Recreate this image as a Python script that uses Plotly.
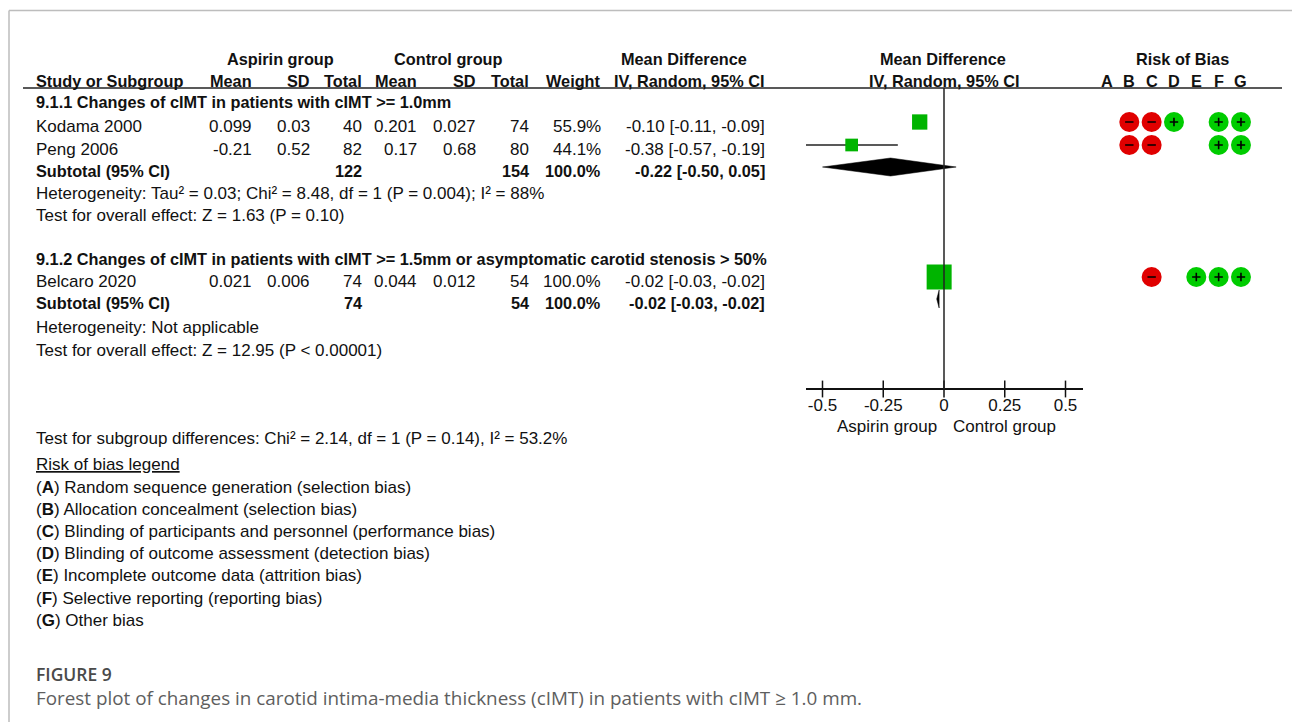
import plotly.graph_objects as go

# ---------------- data ----------------
studies = ["Kodama 2000", "Peng 2006", "Belcaro 2020"]
asp_mean = [0.099, -0.21, 0.021]
asp_sd = [0.03, 0.52, 0.006]
asp_n = [40, 82, 74]
ctl_mean = [0.201, 0.17, 0.044]
ctl_sd = [0.027, 0.68, 0.012]
ctl_n = [74, 80, 54]
weight = [55.9, 44.1, 100.0]
md = [-0.10, -0.38, -0.02]
ci_lo = [-0.11, -0.57, -0.03]
ci_hi = [-0.09, -0.19, -0.02]

sub_titles = [
    "9.1.1 Changes of cIMT in patients with cIMT >= 1.0mm",
    "9.1.2 Changes of cIMT in patients with cIMT >= 1.5mm or asymptomatic carotid stenosis > 50%",
]
sub_asp_n = [122, 74]
sub_ctl_n = [154, 54]
sub_weight = [100.0, 100.0]
sub_md = [-0.22, -0.02]
sub_lo = [-0.50, -0.03]
sub_hi = [0.05, -0.02]
sub_het = [
    "Heterogeneity: Tau² = 0.03; Chi² = 8.48, df = 1 (P = 0.004); I² = 88%",
    "Heterogeneity: Not applicable",
]
sub_effect = [
    "Test for overall effect: Z = 1.63 (P = 0.10)",
    "Test for overall effect: Z = 12.95 (P < 0.00001)",
]

axis_ticks = [-0.5, -0.25, 0, 0.25, 0.5]
axis_ticktext = ["-0.5", "-0.25", "0", "0.25", "0.5"]

rob_domains = ["A", "B", "C", "D", "E", "F", "G"]
rob = [
    [None, "high", "high", "low", None, "low", "low"],   # Kodama 2000
    [None, "high", "high", None, None, "low", "low"],    # Peng 2006
    [None, None, "high", None, "low", "low", "low"],     # Belcaro 2020
]
rob_legend = [
    ("A", "Random sequence generation (selection bias)"),
    ("B", "Allocation concealment (selection bias)"),
    ("C", "Blinding of participants and personnel (performance bias)"),
    ("D", "Blinding of outcome assessment (detection bias)"),
    ("E", "Incomplete outcome data (attrition bias)"),
    ("F", "Selective reporting (reporting bias)"),
    ("G", "Other bias"),
]
subgroup_test = "Test for subgroup differences: Chi² = 2.14, df = 1 (P = 0.14), I² = 53.2%"

# ---------------- layout constants (pixels) ----------------
W, H = 1292, 722
FONT = "Liberation Sans, Arial, sans-serif"
FS = 17        # regular table text
FSB = 16.3     # bold table text
INK = "#111111"
GREEN_SQ = "#00b400"
GREEN_ROB = "#00cc00"
RED_ROB = "#e00000"

study_y = [126, 149, 281]
sub_y = [171, 303]
title_y = [102, 259]
het_y = [193, 327]
eff_y = [215, 350]
MARK_DY = -4

# table columns: right edges (px)
col_asp_mean, col_asp_sd, col_asp_n = 254, 312, 364
col_ctl_mean, col_ctl_sd, col_ctl_n = 419, 478, 531
col_weight, col_ci = 603, 767
LEFT = 34

AX_Y = 389
AX_X0, AX_X1 = 806, 1083
PX_PER_UNIT = 243.0
ZERO_PX = 944
x_lo = (AX_X0 - ZERO_PX) / PX_PER_UNIT
x_hi = (AX_X1 - ZERO_PX) / PX_PER_UNIT

ROB_X0 = 1107 - 11.17
ROB_STEP = 22.33

fig = go.Figure()
ann = []


def txt(x, y, s, anchor="left", bold=False, size=None, color=INK, family=FONT, weight=None):
    if size is None:
        size = FSB if bold else FS
    if bold:
        s = f"<b>{s}</b>"
    font = dict(family=family, size=size, color=color)
    if weight is not None:
        font["weight"] = weight
    ann.append(dict(x=x / W, y=y, xref="paper", yref="y", text=s, showarrow=False,
                    xanchor=anchor, yanchor="middle", font=font))


# headers
txt(280, 59, "Aspirin group", "center", True)
txt(448, 59, "Control group", "center", True)
txt(684, 59, "Mean Difference", "center", True)
txt(943, 59, "Mean Difference", "center", True)
txt(1182, 59, "Risk of Bias", "center", True)
txt(LEFT, 81, "Study or Subgroup", "left", True)
for x, s in [(col_asp_mean, "Mean"), (col_asp_sd, "SD"), (col_asp_n, "Total"),
             (col_ctl_mean, "Mean"), (col_ctl_sd, "SD"), (col_ctl_n, "Total"),
             (col_weight, "Weight"), (col_ci, "IV, Random, 95% CI")]:
    txt(x, 81, s, "right", True)
txt(944, 81, "IV, Random, 95% CI", "center", True)
for d in rob_domains:
    ann.append(dict(x=d, y=81, xref="x2", yref="y", text=f"<b>{d}</b>", showarrow=False,
                    xanchor="center", yanchor="middle",
                    font=dict(family=FONT, size=FSB, color=INK)))

# study rows
for i, s in enumerate(studies):
    y = study_y[i]
    txt(LEFT, y, s)
    txt(col_asp_mean, y, f"{asp_mean[i]:g}", "right")
    txt(col_asp_sd, y, f"{asp_sd[i]:g}", "right")
    txt(col_asp_n, y, f"{asp_n[i]}", "right")
    txt(col_ctl_mean, y, f"{ctl_mean[i]:g}", "right")
    txt(col_ctl_sd, y, f"{ctl_sd[i]:g}", "right")
    txt(col_ctl_n, y, f"{ctl_n[i]}", "right")
    txt(col_weight, y, f"{weight[i]:.1f}%", "right")
    txt(col_ci, y, f"{md[i]:.2f} [{ci_lo[i]:.2f}, {ci_hi[i]:.2f}]", "right")

# subgroup rows
for g in range(2):
    txt(LEFT, title_y[g], sub_titles[g], bold=True)
    y = sub_y[g]
    txt(LEFT, y, "Subtotal (95% CI)", bold=True)
    txt(col_asp_n, y, f"{sub_asp_n[g]}", "right", True)
    txt(col_ctl_n, y, f"{sub_ctl_n[g]}", "right", True)
    txt(col_weight, y, f"{sub_weight[g]:.1f}%", "right", True)
    txt(col_ci, y, f"{sub_md[g]:.2f} [{sub_lo[g]:.2f}, {sub_hi[g]:.2f}]", "right", True)
    txt(LEFT, het_y[g], sub_het[g])
    txt(LEFT, eff_y[g], sub_effect[g])

txt(LEFT, 438, subgroup_test)
txt(LEFT, 464, "<u>Risk of bias legend</u>")
for k, (d, s) in enumerate(rob_legend):
    txt(LEFT, 487 + k * 22.2, f"(<b>{d}</b>) {s}")

txt(887, 426, "Aspirin group", "center")
txt(1004, 426, "Control group", "center")

# caption
txt(LEFT, 674, "FIGURE 9", size=17.5, color="#4a4a4a", family="Open Sans, sans-serif", weight=600)
txt(LEFT, 698, "Forest plot of changes in carotid intima-media thickness (cIMT) in patients with cIMT ≥ 1.0 mm.",
    size=18.85, color="#5e5e5e", family="Open Sans, sans-serif")

# ---------------- forest marks ----------------
for i in range(len(studies)):
    y = study_y[i] + MARK_DY
    fig.add_trace(go.Scatter(x=[ci_lo[i], ci_hi[i]], y=[y, y], mode="lines",
                             line=dict(color="#222222", width=1.5),
                             xaxis="x", yaxis="y", showlegend=False, hoverinfo="skip"))
fig.add_trace(go.Scatter(
    x=md, y=[v + MARK_DY for v in study_y], mode="markers",
    marker=dict(symbol="square", color=GREEN_SQ, opacity=1,
                size=[3 + 22 * w / 100 for w in weight], line=dict(width=0)),
    xaxis="x", yaxis="y", showlegend=False, hoverinfo="skip"))

DIAMOND_H = 9
for g in range(2):
    yc = sub_y[g] + MARK_DY
    fig.add_trace(go.Scatter(
        x=[sub_lo[g], sub_md[g], sub_hi[g], sub_md[g], sub_lo[g]],
        y=[yc, yc - DIAMOND_H, yc, yc + DIAMOND_H, yc],
        mode="lines", fill="toself", fillcolor="#000000",
        line=dict(color="#000000", width=0.5),
        xaxis="x", yaxis="y", showlegend=False, hoverinfo="skip"))

# axis ticks crossing the axis line
fig.add_trace(go.Scatter(
    x=axis_ticks, y=[AX_Y] * len(axis_ticks), mode="markers",
    marker=dict(symbol="line-ns", size=12, line=dict(color=INK, width=1.5)),
    xaxis="x", yaxis="y", showlegend=False, hoverinfo="skip"))

# ---------------- risk of bias ----------------
for i in range(len(studies)):
    y = study_y[i] + MARK_DY
    for j, d in enumerate(rob_domains):
        r = rob[i][j]
        if r is None:
            continue
        fig.add_trace(go.Scatter(
            x=[d], y=[y], mode="markers",
            marker=dict(symbol="circle", size=20,
                        color=GREEN_ROB if r == "low" else RED_ROB,
                        line=dict(width=0)),
            xaxis="x2", yaxis="y", showlegend=False, hoverinfo="skip"))
        fig.add_trace(go.Scatter(
            x=[d], y=[y], mode="markers",
            marker=dict(symbol="cross-thin" if r == "low" else "line-ew", size=6,
                        line=dict(color="#000000", width=1.6)),
            xaxis="x2", yaxis="y", showlegend=False, hoverinfo="skip"))

shapes = [
    # outer frame
    dict(type="line", xref="paper", yref="paper", x0=9 / W, x1=1, y0=1 - 10.5 / H, y1=1 - 10.5 / H,
         line=dict(color="#bdbdbd", width=1.5)),
    dict(type="line", xref="paper", yref="paper", x0=9 / W, x1=9 / W, y0=1 - 10.5 / H, y1=0,
         line=dict(color="#bdbdbd", width=1.5)),
    # header rule
    dict(type="line", xref="paper", yref="y", x0=23 / W, x1=1282 / W, y0=88, y1=88,
         line=dict(color="#222222", width=1.5)),
    # line of no effect
    dict(type="line", xref="x", yref="y", x0=0, x1=0, y0=88, y1=AX_Y,
         line=dict(color="#222222", width=1.5)),
]

fig.update_layout(
    width=W, height=H, margin=dict(l=0, r=0, t=0, b=0),
    paper_bgcolor="white", plot_bgcolor="white",
    annotations=ann, shapes=shapes, showlegend=False,
    xaxis=dict(domain=[AX_X0 / W, AX_X1 / W], range=[x_lo, x_hi], anchor="free",
               position=1 - AX_Y / H, showline=True, linecolor=INK, linewidth=1.5,
               ticks="", ticklabelstandoff=1,
               tickvals=axis_ticks, ticktext=axis_ticktext,
               tickfont=dict(family=FONT, size=FS, color=INK),
               showgrid=False, zeroline=False, fixedrange=True),
    xaxis2=dict(domain=[ROB_X0 / W, (ROB_X0 + 7 * ROB_STEP) / W], type="category",
                categoryorder="array", categoryarray=rob_domains, range=[-0.5, 6.5],
                anchor="y", visible=False, fixedrange=True),
    yaxis=dict(domain=[0, 1], range=[H, 0], visible=False, fixedrange=True),
)

fig.write_html("out.html", config={"displayModeBar": False})
